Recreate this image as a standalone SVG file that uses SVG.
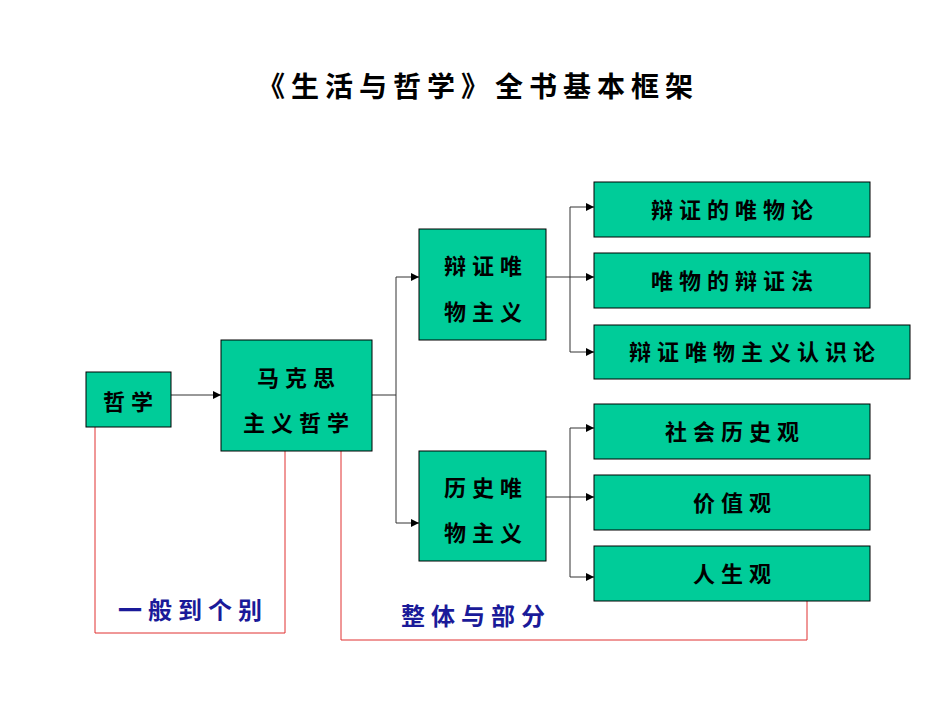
<svg xmlns="http://www.w3.org/2000/svg" width="950" height="713" viewBox="0 0 950 713">
<style>
.b{fill:#00CC99;stroke:#000;stroke-width:1}
.t{font-family:"Noto Sans CJK SC","Liberation Sans",sans-serif;font-weight:bold;font-size:22px;fill:#000;text-anchor:middle;letter-spacing:6px}
.c{fill:none;stroke:#333;stroke-width:1}
.r{fill:none;stroke:#E03030;stroke-width:1}
.l{font-family:"Noto Sans CJK SC","Liberation Sans",sans-serif;font-weight:bold;font-size:24px;fill:#1A1A99;text-anchor:middle;letter-spacing:6px}
</style>
<defs><marker id="a" markerWidth="8" markerHeight="8" refX="8" refY="4" orient="auto" markerUnits="userSpaceOnUse"><path d="M0,0L8,4L0,8z" fill="#000"/></marker></defs>
<rect width="950" height="713" fill="#fff"/>
<text x="478" y="97" font-family="'Noto Sans CJK SC',sans-serif" font-weight="bold" font-size="28" text-anchor="middle" letter-spacing="6">《生活与哲学》全书基本框架</text>
<g id="connectors">
<path class="c" d="M171,395H221" marker-end="url(#a)"/>
<path class="c" d="M372,395H396M396,277V523M396,277H419" marker-end="url(#a)"/>
<path class="c" d="M396,523H419" marker-end="url(#a)"/>
<path class="c" d="M546,277H594" marker-end="url(#a)"/>
<path class="c" d="M570,207V352"/>
<path class="c" d="M570,207H594" marker-end="url(#a)"/>
<path class="c" d="M570,352H594" marker-end="url(#a)"/>
<path class="c" d="M546,497H594" marker-end="url(#a)"/>
<path class="c" d="M570,428V577"/>
<path class="c" d="M570,428H594" marker-end="url(#a)"/>
<path class="c" d="M570,577H594" marker-end="url(#a)"/>
<path class="r" d="M95,427V633H285V451"/>
<path class="r" d="M341,451V640H807V601"/>
</g>
<g id="n1"><rect class="b" x="86" y="372" width="85" height="55"/><text class="t" x="131" y="410">哲学</text></g>
<g id="n2"><rect class="b" x="221" y="340" width="151" height="111"/><text class="t" x="299" y="386">马克思</text><text class="t" x="299" y="431">主义哲学</text></g>
<g id="n3"><rect class="b" x="419" y="229" width="127" height="111"/><text class="t" x="486" y="274">辩证唯</text><text class="t" x="486" y="320">物主义</text></g>
<g id="n4"><rect class="b" x="419" y="451" width="127" height="110"/><text class="t" x="486" y="496">历史唯</text><text class="t" x="486" y="541">物主义</text></g>
<g id="n5"><rect class="b" x="594" y="182" width="276" height="55"/><text class="t" x="735" y="218">辩证的唯物论</text></g>
<g id="n6"><rect class="b" x="594" y="253" width="276" height="55"/><text class="t" x="735" y="289">唯物的辩证法</text></g>
<g id="n7"><rect class="b" x="594" y="325" width="316" height="54"/><text class="t" x="755" y="360">辩证唯物主义认识论</text></g>
<g id="n8"><rect class="b" x="594" y="404" width="276" height="55"/><text class="t" x="735" y="440">社会历史观</text></g>
<g id="n9"><rect class="b" x="594" y="475" width="276" height="55"/><text class="t" x="735" y="511">价值观</text></g>
<g id="n10"><rect class="b" x="594" y="546" width="276" height="55"/><text class="t" x="735" y="582">人生观</text></g>
<text class="l" x="193" y="619">一般到个别</text>
<text class="l" x="476" y="625">整体与部分</text>
</svg>
